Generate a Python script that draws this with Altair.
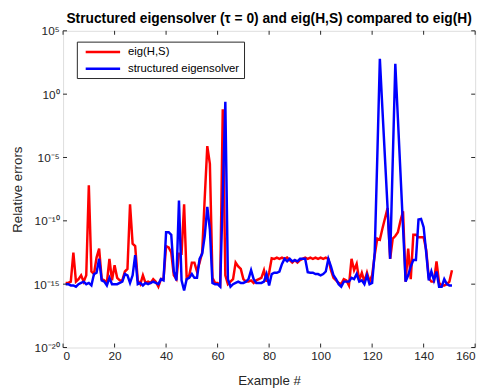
import altair as alt
import pandas as pd

# ---------------- data (log10 of relative error) -------------
example_no = list(range(1, 152))

red_log10 = [
    -14.9, -14.9, -14.8, -12.5, -14.8, -14.6, -14.3, -14.8, -14.3, -7.2,    # 1-10
    -14.0, -14.2, -12.9, -12.2, -14.6, -14.7, -14.9, -13.0, -14.7, -13.5,   # 11-20
    -14.5, -14.7, -14.7, -14.0, -13.8, -8.7, -11.8, -12.0, -14.7, -15.0,    # 21-30
    -14.3, -14.9, -14.8, -14.9, -14.6, -14.8, -15.2, -14.6, -14.6, -12.0,   # 31-40
    -12.1, -12.5, -14.3, -14.6, -12.6, -12.6, -8.7, -14.6, -14.3, -13.3,    # 41-50
    -13.3, -14.0, -13.3, -12.5, -8.2, -4.1, -5.5, -14.5, -14.9, -14.9,      # 51-60
    -15.1, -1.2, -14.3, -15.0, -14.8, -14.6, -13.3, -13.6, -13.8, -14.6,    # 61-70
    -14.8, -14.8, -14.7, -14.9, -14.7, -14.6, -14.5, -13.9, -14.8, -14.1,   # 71-80
    -12.95, -13.0, -12.9, -13.0, -12.9, -13.0, -12.9, -13.1, -13.3, -13.1,  # 81-90
    -13.3, -13.1, -13.0, -12.9, -13.0, -12.9, -13.0, -12.9, -13.0, -12.9,   # 91-100
    -13.0, -12.9, -13.0, -13.9, -14.5, -14.7, -14.9, -15.0, -14.6, -14.7,   # 101-110
    -15.1, -13.0, -13.9, -13.4, -14.7, -14.1, -14.8, -14.1, -14.8, -14.3,   # 111-120
    -12.7, -11.4, -11.5, -10.6, -9.8, -9.0, -13.0, -11.4, -11.2, -10.9,     # 121-130
    -10.0, -9.25, -14.8, -12.2, -14.6, -11.1, -11.1, -11.3, -11.3, -11.3,   # 131-140
    -12.3, -14.5, -14.8, -14.8, -13.2, -14.9, -15.1, -15.1, -15.0, -14.8,   # 141-150
    -13.9,                                                                  # 151
]

blue_log10 = [
    -15.0, -15.0, -15.1, -15.1, -15.2, -15.0, -14.9, -14.8, -15.0, -14.9,   # 1-10
    -15.1, -14.2, -14.1, -13.0, -14.7, -14.8, -15.1, -14.5, -15.0, -15.0,   # 11-20
    -15.0, -14.9, -14.8, -14.2, -14.3, -14.9, -14.3, -12.7, -15.0, -14.9,   # 21-30
    -15.1, -14.9, -15.0, -14.9, -14.8, -14.9, -15.0, -14.6, -14.7, -10.9,   # 31-40
    -10.9, -11.1, -14.0, -14.7, -8.4, -14.7, -15.5, -14.6, -14.5, -14.2,    # 41-50
    -14.5, -14.5, -13.0, -12.6, -11.2, -8.9, -10.7, -14.9, -15.0, -15.0,    # 51-60
    -15.2, -8.0, -0.6, -14.6, -15.2, -15.0, -14.9, -14.8, -14.9, -14.9,     # 61-70
    -14.8, -14.6, -13.9, -14.6, -14.9, -14.9, -14.9, -14.8, -14.2, -15.1,   # 71-80
    -14.2, -14.1, -14.1, -14.0, -13.4, -13.0, -13.2, -13.0, -13.2, -13.1,   # 81-90
    -13.2, -13.0, -13.0, -13.0, -14.05, -14.1, -14.1, -14.2, -14.2, -14.3,  # 91-100
    -14.2, -14.0, -13.0, -13.6, -14.3, -14.6, -15.0, -15.2, -14.8, -14.8,   # 101-110
    -14.8, -14.5, -14.6, -14.2, -14.8, -14.7, -15.0, -14.3, -15.0, -14.9,   # 111-120
    -12.5, -5.0, 2.8, -1.2, -5.1, -9.0, -13.0, -5.3, 2.4, -1.9,             # 121-130
    -6.2, -10.5, -14.8, -14.3, -13.6, -13.1, -13.1, -9.9, -9.85, -10.5,     # 131-140
    -12.5, -14.7, -14.0, -14.7, -14.0, -15.2, -15.2, -14.6, -15.0, -15.1,   # 141-150
    -15.1,                                                                  # 151
]

series_names = ["eig(H,S)", "structured eigensolver"]
series_colors = ["#ff0000", "#0000ff"]

x_ticks = [0, 20, 40, 60, 80, 100, 120, 140, 160]
y_ticks = [1e-20, 1e-15, 1e-10, 1e-5, 1e0, 1e5]
y_tick_labels = ["10⁻²⁰", "10⁻¹⁵", "10⁻¹⁰", "10⁻⁵", "10⁰", "10⁵"]
y_tick_exps = [-20, -15, -10, -5, 0, 5]

# ---------------- tables ----------------
rows = []
for name, vals in zip(series_names, [red_log10, blue_log10]):
    for xi, lv in zip(example_no, vals):
        rows.append({"x": xi, "v": 10.0 ** lv, "series": name})
df = pd.DataFrame(rows)
xt = pd.DataFrame({"x": x_ticks})
yt = pd.DataFrame({"v": y_ticks})

FONT = "Liberation Sans"
W, H = 419, 322

label_expr = "''"
for e, lab in zip(y_tick_exps, y_tick_labels):
    label_expr = f"round(log(datum.value)/LN10) == {e} ? '{lab}' : ({label_expr})"

x_scale = alt.Scale(domain=[0, 160], nice=False, zero=False)
y_scale = alt.Scale(type="log", domain=[1e-20, 1e5], nice=False)

x_axis = alt.Axis(values=x_ticks, tickSize=0, domain=False, grid=False,
                  labelPadding=3, labelFontSize=12, labelColor="#262626",
                  labelFont=FONT, title="Example #", titleFont=FONT,
                  titleFontSize=13.5, titleFontWeight="normal",
                  titleColor="#262626", titlePadding=13)
y_axis = alt.Axis(values=y_ticks, tickSize=0, domain=False, grid=False,
                  labelPadding=4, labelFontSize=12, labelColor="#262626",
                  labelFont=FONT, labelExpr=label_expr,
                  title="Relative errors", titleFont=FONT, titleFontSize=13.5,
                  titleFontWeight="normal", titleColor="#262626",
                  titlePadding=9)

X = lambda: alt.X("x:Q", scale=x_scale, axis=x_axis)
Y = lambda: alt.Y("v:Q", scale=y_scale, axis=y_axis)

lines = alt.Chart(df).mark_line(strokeWidth=2.5).encode(
    x=X(),
    y=Y(),
    color=alt.Color(
        "series:N",
        scale=alt.Scale(domain=series_names, range=series_colors),
        legend=alt.Legend(title=None, orient="none", legendX=14, legendY=11,
                          fillColor="white", strokeColor="#262626",
                          padding=4, symbolType="M-3.5,0H3.5",
                          symbolSize=100, symbolStrokeWidth=2.5,
                          symbolOffset=16, labelOffset=19,
                          labelFontSize=11.5, labelFont=FONT,
                          labelColor="black", rowPadding=5),
    ),
)

tick_color = "#262626"
xt_bottom = alt.Chart(xt).mark_rule(color=tick_color).encode(
    x=X(), y=alt.value(H), y2=alt.value(H - 4))
xt_top = alt.Chart(xt).mark_rule(color=tick_color).encode(
    x=X(), y=alt.value(0), y2=alt.value(4))
yt_left = alt.Chart(yt).mark_rule(color=tick_color).encode(
    y=Y(), x=alt.value(0), x2=alt.value(4))
yt_right = alt.Chart(yt).mark_rule(color=tick_color).encode(
    y=Y(), x=alt.value(W), x2=alt.value(W - 4))

chart = alt.layer(lines, xt_bottom, xt_top, yt_left, yt_right).properties(
    width=W, height=H,
    title=alt.TitleParams(
        "Structured eigensolver (τ = 0) and eig(H,S) compared to eig(H)",
        font=FONT, fontSize=14, fontWeight="bold", color="black",
        anchor="middle", offset=6, dy=7),
    autosize=alt.AutoSizeParams(type="none"),
    padding={"left": 56, "top": 20, "right": 9, "bottom": 40},
).configure_view(stroke="#262626", strokeWidth=1).configure(background="white")

chart.save("out.html", embed_options={"renderer": "svg", "actions": False})
